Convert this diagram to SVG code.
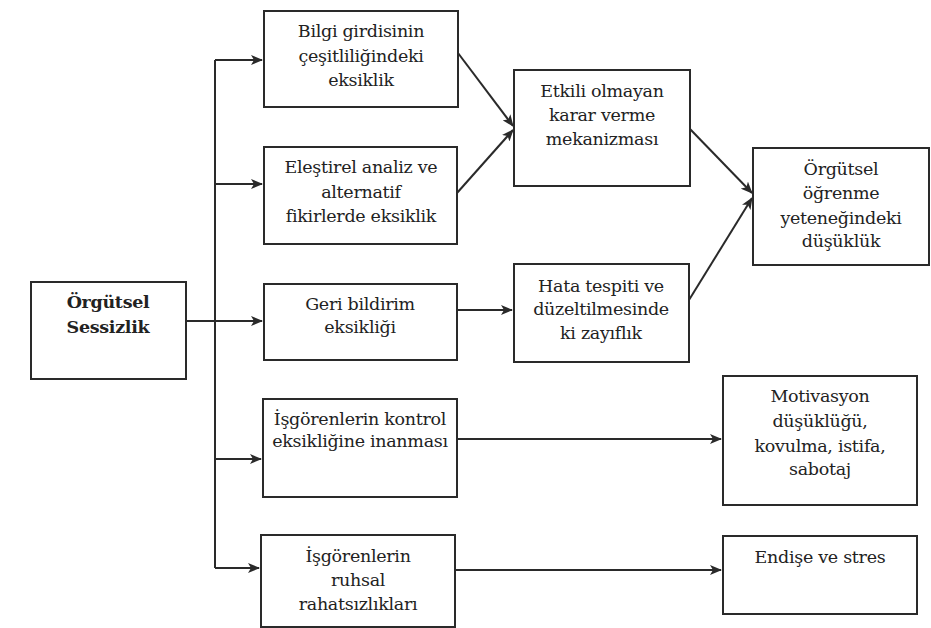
<svg xmlns="http://www.w3.org/2000/svg" width="931" height="628" viewBox="0 0 931 628">
<defs>
<marker id="ah" markerWidth="12" markerHeight="10" refX="11" refY="5" orient="auto" markerUnits="userSpaceOnUse">
<path d="M0,0 L12,5 L0,10 L3,5 Z" fill="#2a2a2a"/>
</marker>
<style>
.box{fill:#fff;stroke:#2a2a2a;stroke-width:2}
.t{font-family:'DejaVu Serif',serif;font-size:17.5px;fill:#222;text-anchor:middle;letter-spacing:-0.3px}
.b{font-weight:bold}
.c{fill:none;stroke:#2a2a2a;stroke-width:2}
</style>
</defs>
<rect width="931" height="628" fill="#fff"/>
<g id="connectors">
<path class="c" d="M186,321 L262,321" marker-end="url(#ah)"/>
<path class="c" d="M215,60 L215,568"/>
<path class="c" d="M215,60 L262,60" marker-end="url(#ah)"/>
<path class="c" d="M215,184 L262,184" marker-end="url(#ah)"/>
<path class="c" d="M215,459 L261,459" marker-end="url(#ah)"/>
<path class="c" d="M215,568 L259,568" marker-end="url(#ah)"/>
<path class="c" d="M458,53 L513,126" marker-end="url(#ah)"/>
<path class="c" d="M457,193 L513,130" marker-end="url(#ah)"/>
<path class="c" d="M457,310 L512,310" marker-end="url(#ah)"/>
<path class="c" d="M690,129 L752,193" marker-end="url(#ah)"/>
<path class="c" d="M689,300 L752,198" marker-end="url(#ah)"/>
<path class="c" d="M457,439 L721,439" marker-end="url(#ah)"/>
<path class="c" d="M455,570 L721,570" marker-end="url(#ah)"/>
</g>
<g id="n_sessizlik">
<rect class="box" x="31" y="282" width="155" height="97"/>
<text class="t b" x="108" y="308">Örgütsel</text>
<text class="t b" x="108" y="333">Sessizlik</text>
</g>
<g id="n_bilgi">
<rect class="box" x="264" y="11" width="194" height="96"/>
<text class="t" x="361" y="37">Bilgi girdisinin</text>
<text class="t" x="361" y="62">çeşitliliğindeki</text>
<text class="t" x="361" y="86">eksiklik</text>
</g>
<g id="n_elestirel">
<rect class="box" x="264" y="147" width="193" height="97"/>
<text class="t" x="361" y="173">Eleştirel analiz ve</text>
<text class="t" x="361" y="198">alternatif</text>
<text class="t" x="361" y="222">fikirlerde eksiklik</text>
</g>
<g id="n_geri">
<rect class="box" x="264" y="284" width="193" height="76"/>
<text class="t" x="360" y="310">Geri bildirim</text>
<text class="t" x="360" y="333">eksikliği</text>
</g>
<g id="n_kontrol">
<rect class="box" x="263" y="399" width="194" height="98"/>
<text class="t" x="360" y="425">İşgörenlerin kontrol</text>
<text class="t" x="360" y="447">eksikliğine inanması</text>
</g>
<g id="n_ruhsal">
<rect class="box" x="261" y="535" width="194" height="92"/>
<text class="t" x="358" y="562">İşgörenlerin</text>
<text class="t" x="358" y="586">ruhsal</text>
<text class="t" x="358" y="610">rahatsızlıkları</text>
</g>
<g id="n_etkili">
<rect class="box" x="514" y="70" width="176" height="116"/>
<text class="t" x="602" y="97">Etkili olmayan</text>
<text class="t" x="602" y="121">karar verme</text>
<text class="t" x="602" y="145">mekanizması</text>
</g>
<g id="n_hata">
<rect class="box" x="514" y="264" width="175" height="98"/>
<text class="t" x="601" y="292">Hata tespiti ve</text>
<text class="t" x="601" y="315">düzeltilmesinde</text>
<text class="t" x="601" y="339">ki zayıflık</text>
</g>
<g id="n_orgutsel">
<rect class="box" x="753" y="148" width="176" height="117"/>
<text class="t" x="841" y="175">Örgütsel</text>
<text class="t" x="841" y="199">öğrenme</text>
<text class="t" x="841" y="224">yeteneğindeki</text>
<text class="t" x="841" y="247">düşüklük</text>
</g>
<g id="n_motivasyon">
<rect class="box" x="723" y="376" width="194" height="129"/>
<text class="t" x="820" y="402">Motivasyon</text>
<text class="t" x="820" y="427">düşüklüğü,</text>
<text class="t" x="820" y="452">kovulma, istifa,</text>
<text class="t" x="820" y="475">sabotaj</text>
</g>
<g id="n_endise">
<rect class="box" x="723" y="536" width="194" height="78"/>
<text class="t" x="820" y="563">Endişe ve stres</text>
</g>
</svg>
